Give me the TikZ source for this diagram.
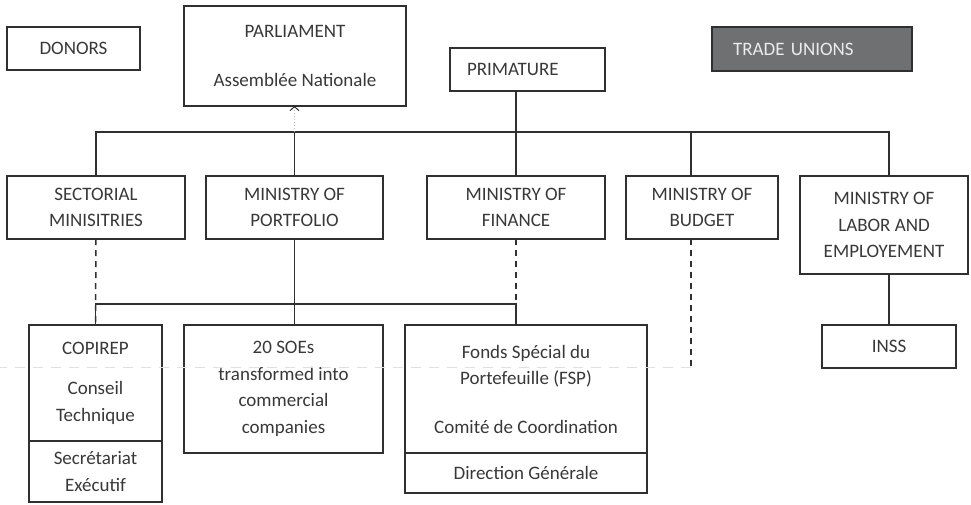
\documentclass[tikz,border=0pt]{standalone}
\usepackage{fontspec}
\setmainfont{Carlito}
\usetikzlibrary{arrows.meta,positioning}

\definecolor{linegray}{HTML}{303030}
\definecolor{textgray}{HTML}{383838}
\definecolor{unionfill}{HTML}{6F7072}

\begin{document}
\begin{tikzpicture}[x=1pt,y=-1pt,
   box/.style={draw=linegray,line width=1.8pt,text=textgray,align=center,
      inner sep=0pt,outer sep=0pt,font=\fontsize{19}{26.5}\selectfont},
   link/.style={draw=linegray,line width=1.5pt},
   dashlink/.style={link,dash pattern=on 6pt off 5pt}]
   \useasboundingbox (0,0) rectangle (971,504);

   % top row
   \node[box,minimum width=133pt,minimum height=43pt] (donors) at (73.5,48.5) {DONORS};
   \node[box,minimum width=222pt,minimum height=100pt] (parl) at (295,56)
      {PARLIAMENT\\[22pt]Assembl\'ee Nationale};
   \node[box,minimum width=155pt,minimum height=43pt,text width=121pt,align=left] (prim)
      at (527.5,69.5) {PRIMATURE};
   \node[box,fill=unionfill,text=black!8,minimum width=200pt,minimum height=44pt,
      text width=158pt,align=left] (unions) at (812,49) {TRADE UNIONS};

   % ministries
   \node[box,minimum width=178pt,minimum height=63pt] (sect) at (96,207.5) {SECTORIAL\\MINISITRIES};
   \node[box,minimum width=177pt,minimum height=63pt] (port) at (294.5,207.5) {MINISTRY OF\\PORTFOLIO};
   \node[box,minimum width=178pt,minimum height=63pt] (fin) at (516,207.5) {MINISTRY OF\\FINANCE};
   \node[box,minimum width=152pt,minimum height=63pt] (budg) at (702,207.5) {MINISTRY OF\\BUDGET};
   \node[box,minimum width=168pt,minimum height=98pt] (labor) at (884,225)
      {MINISTRY OF\\LABOR AND\\EMPLOYEMENT};

   % bottom row
   \node[box,minimum width=133pt,minimum height=116pt] (copirep) at (95.5,383)
      {COPIREP\\[14pt]Conseil\\Technique};
   \node[box,minimum width=133pt,minimum height=61pt,below=0pt of copirep] (secexec)
      {Secr\'etariat\\Ex\'ecutif};
   \node[box,minimum width=199pt,minimum height=128pt] (soes) at (283.5,389)
      {20 SOEs\\transformed into\\commercial\\companies};
   \node[box,minimum width=242pt,minimum height=128pt] (fsp) at (526,389)
      {Fonds Sp\'ecial du\\Portefeuille (FSP)\\[22pt]Comit\'e de Coordination};
   \node[box,minimum width=242pt,minimum height=40pt,below=0pt of fsp] (dirgen)
      {Direction G\'en\'erale};
   \node[box,minimum width=134pt,minimum height=43pt] (inss) at (889,346.5) {INSS};

   % upper bus
   \coordinate (bus) at (0,132);
   \draw[link] (sect.north) -- (sect.north |- bus) -- ([xshift=5pt]labor.north |- bus)
      -- ([xshift=5pt]labor.north);
   \foreach \n in {port,fin}
      \draw[link] (\n.north) -- (\n.north |- bus);
   \draw[link] ([xshift=-11pt]budg.north) -- ([xshift=-11pt]budg.north |- bus);
   \draw[link] (prim.south -| fin.north) -- (fin.north |- bus);
   \draw[black!25,dotted,line width=1pt,-{Straight Barb[color=linegray,length=4pt,width=9pt]}]
      (port.north |- bus) -- (port.north |- parl.south);

   % lower links
   \draw[dashlink] (sect.south) -- (copirep.north);
   \draw[link] (copirep.north) -- ++(0,-21) -| (fin.south |- fsp.north);
   \draw[dashlink] (fin.south) -- (fin.south |- fsp.north);
   \draw[link] (port.south) -- (port.south |- soes.north);
   \draw[dashlink] ([xshift=-11pt]budg.south) -- ++(0,128) coordinate (budgend);
   \coordinate (leftend) at (0,367);
   \draw[black!12,line width=1pt,dash pattern=on 10pt off 8pt] (budgend) -- (leftend);
   \draw[link] ([xshift=5pt]labor.south) -- ([xshift=5pt]labor.south |- inss.north);

\end{tikzpicture}
\end{document}
